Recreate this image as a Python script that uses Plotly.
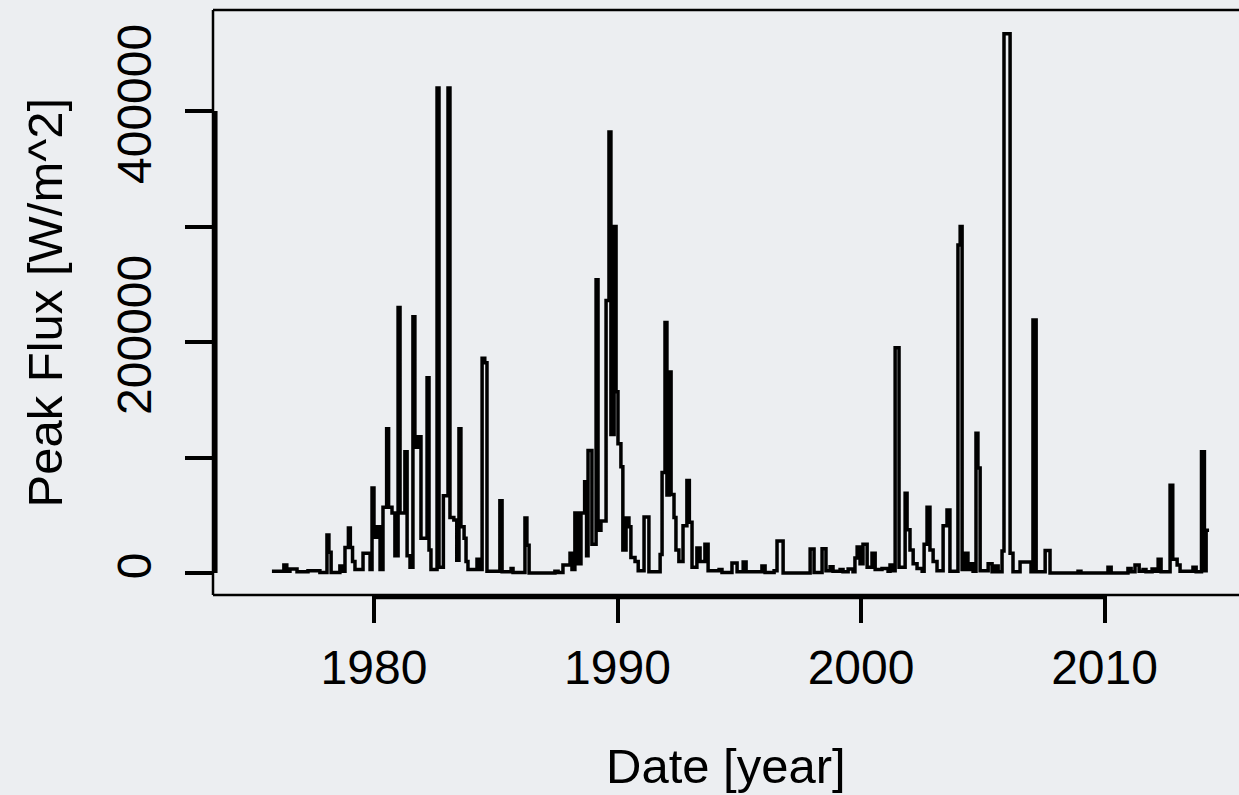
import plotly.graph_objects as go

# Step series: time (decimal year) where each level starts, and peak flux level
years = [
    1975.81, 1976.30, 1976.42, 1976.55, 1976.84, 1977.29, 1977.78, 1978.07, 1978.15, 1978.24,
    1978.60, 1978.70, 1978.81, 1978.95, 1979.03, 1979.12, 1979.22, 1979.55, 1979.84, 1979.92,
    1980.00, 1980.12, 1980.25, 1980.37, 1980.52, 1980.60, 1980.74, 1980.86, 1980.99, 1981.07,
    1981.27, 1981.36, 1981.48, 1981.60, 1981.68, 1981.81, 1981.93, 1982.18, 1982.26, 1982.34,
    1982.59, 1982.67, 1982.85, 1983.04, 1983.12, 1983.28, 1983.40, 1983.49, 1983.57, 1983.70,
    1983.78, 1983.86, 1984.23, 1984.35, 1984.44, 1984.55, 1984.64, 1985.17, 1985.26, 1985.63,
    1985.71, 1986.20, 1986.28, 1986.37, 1987.43, 1987.56, 1987.76, 1988.05, 1988.13, 1988.25,
    1988.38, 1988.50, 1988.65, 1988.73, 1988.79, 1988.95, 1989.12, 1989.20, 1989.32, 1989.53,
    1989.65, 1989.73, 1989.86, 1989.94, 1990.02, 1990.14, 1990.22, 1990.35, 1990.47, 1990.55,
    1990.72, 1990.85, 1991.09, 1991.29, 1991.75, 1991.83, 1991.95, 1992.03, 1992.12, 1992.20,
    1992.32, 1992.40, 1992.52, 1992.69, 1992.85, 1992.95, 1993.06, 1993.26, 1993.39, 1993.59,
    1993.72, 1994.17, 1994.29, 1994.70, 1994.91, 1995.16, 1995.28, 1995.93, 1996.06, 1996.43,
    1996.55, 1996.80, 1997.91, 1998.07, 1998.40, 1998.56, 1998.73, 1998.85, 1999.14, 1999.26,
    1999.47, 1999.67, 1999.75, 1999.84, 1999.96, 2000.08, 2000.25, 2000.45, 2000.58, 2000.86,
    2001.11, 2001.19, 2001.31, 2001.40, 2001.56, 2001.81, 2001.89, 2002.01, 2002.14, 2002.30,
    2002.51, 2002.59, 2002.71, 2002.83, 2002.96, 2003.12, 2003.37, 2003.53, 2003.65, 2003.98,
    2004.07, 2004.15, 2004.27, 2004.39, 2004.48, 2004.60, 2004.72, 2004.80, 2004.89, 2005.22,
    2005.38, 2005.50, 2005.63, 2005.79, 2005.87, 2006.12, 2006.24, 2006.53, 2006.98, 2007.06,
    2007.19, 2007.56, 2007.76, 2008.91, 2009.03, 2010.14, 2010.27, 2010.96, 2011.09, 2011.25,
    2011.42, 2011.58, 2011.70, 2011.95, 2012.07, 2012.20, 2012.32, 2012.69, 2012.80, 2012.98,
    2013.10, 2013.63, 2013.76, 2013.98, 2014.10, 2014.17, 2014.29,
]
peak_flux = [
    1500, 7000, 1500, 3500, 1000, 2000, 500, 33000, 18000, 500,
    6000, 1500, 22000, 39000, 22000, 10000, 3000, 17000, 3000, 73600,
    31000, 40000, 3000, 57000, 125000, 57000, 52000, 15000, 230000, 52000,
    105000, 15000, 5000, 222000, 109000, 118000, 30000, 169000, 20000, 3000,
    420000, 5000, 67000, 420000, 48000, 46000, 11000, 125000, 40000, 30000,
    10000, 3000, 12000, 3000, 186000, 182000, 1500, 62600, 1000, 4000,
    500, 47600, 24000, 0, 1500, 500, 7000, 17000, 3000, 52000,
    8000, 52000, 79000, 15000, 106000, 25000, 254000, 37000, 45000, 236000,
    382000, 120000, 300000, 157000, 112000, 92000, 20000, 47600, 40000, 13400,
    10000, 2000, 48500, 1000, 16000, 87000, 217000, 67500, 174000, 68000,
    48000, 20000, 10000, 41000, 80000, 44000, 5000, 21600, 10000, 25000,
    2000, 3000, 500, 8600, 1000, 9500, 1000, 6000, 500, 2000,
    27700, 0, 20800, 500, 21000, 2000, 5500, 1500, 3000, 1000,
    3500, 1000, 13000, 22500, 8000, 25000, 5000, 17000, 3000, 4000,
    1500, 7000, 2000, 195000, 5000, 69000, 37500, 20000, 8000, 4000,
    1500, 25000, 57000, 20000, 10000, 2000, 41000, 54500, 1500, 284000,
    300000, 3000, 17000, 3000, 8000, 1500, 121000, 91000, 2000, 8000,
    1000, 6000, 1000, 19000, 467000, 17000, 1000, 9500, 1000, 219000,
    1000, 19500, 0, 1500, 0, 5000, 0, 4000, 1000, 7000,
    1500, 3000, 1000, 3500, 1500, 12000, 1000, 76000, 12000, 7000,
    1500, 5000, 1000, 105000, 2000, 37000, 37000,
]

x_ticks = [1980, 1990, 2000, 2010]
y_ticks = [0, 100000, 200000, 300000, 400000]
y_tick_labels = ["0", "", "200000", "", "400000"]

BG = "#eceef1"
FONT = "Liberation Sans, Arial, Helvetica, sans-serif"

fig = go.Figure()
fig.add_trace(go.Scatter(
    x=years, y=peak_flux, mode="lines",
    line=dict(color="black", width=3.5, shape="hv"),
    showlegend=False, hoverinfo="skip",
))

fig.update_layout(
    width=1239, height=795,
    margin=dict(l=213, r=0, t=10, b=200),
    paper_bgcolor=BG, plot_bgcolor=BG,
    font=dict(family=FONT, size=48, color="black"),
    xaxis=dict(
        range=[1973.39, 2015.52], tickvals=x_ticks, ticktext=[str(v) for v in x_ticks],
        ticks="outside", ticklen=27, tickwidth=4, tickcolor="black",
        showgrid=False, zeroline=False, showline=False,
        ticklabelstandoff=3, tickfont=dict(size=48),
    ),
    yaxis=dict(
        range=[-19050, 487560], tickvals=y_ticks, ticktext=y_tick_labels,
        ticks="outside", ticklen=27, tickwidth=4, tickcolor="black",
        tickangle=-90, showgrid=False, zeroline=False, showline=False,
        ticklabelstandoff=15, tickfont=dict(size=48),
    ),
    shapes=[
        # plot box (top, left, bottom)
        dict(type="line", xref="paper", yref="paper", x0=0, x1=1.01, y0=1, y1=1,
             line=dict(color="black", width=2.5)),
        dict(type="line", xref="paper", yref="paper", x0=0, x1=0, y0=0, y1=1,
             line=dict(color="black", width=2.5)),
        dict(type="line", xref="paper", yref="paper", x0=0, x1=1.01, y0=0, y1=0,
             line=dict(color="black", width=2.5)),
        # R-style axis lines spanning first to last tick
        dict(type="line", xref="x", yref="paper", x0=x_ticks[0], x1=x_ticks[-1],
             y0=-0.003, y1=-0.003, line=dict(color="black", width=5)),
        dict(type="line", xref="paper", yref="y", x0=0.002, x1=0.002,
             y0=y_ticks[0], y1=y_ticks[-1], line=dict(color="black", width=5)),
    ],
    annotations=[
        dict(text="Date [year]", xref="paper", yref="paper",
             x=0.5, y=-(766 - 595) / 585,
             showarrow=False, xanchor="center", yanchor="middle",
             font=dict(size=49, family=FONT)),
        dict(text="Peak Flux [W/m^2]", xref="paper", yref="paper",
             x=-(213 - 44) / 1026, y=0.5, textangle=-90,
             showarrow=False, xanchor="center", yanchor="middle",
             font=dict(size=49, family=FONT)),
    ],
)

fig.write_html("out.html")
